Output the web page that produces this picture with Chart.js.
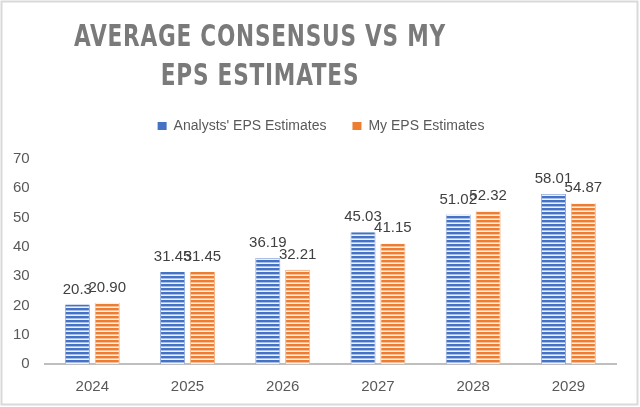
<!DOCTYPE html>
<html><head><meta charset="utf-8">
<script src="https://cdn.jsdelivr.net/npm/chart.js@4.4.0/dist/chart.umd.min.js"></script>
<style>html,body{margin:0;padding:0;background:#fff;overflow:hidden}#wrap{width:640px;height:407px;position:relative}</style>
</head><body><div id="wrap"><canvas id="c" width="640" height="407"></canvas></div>
<script>
const titleLines = ['AVERAGE CONSENSUS VS MY', 'EPS ESTIMATES'];
const categories = ['2024', '2025', '2026', '2027', '2028', '2029'];
const seriesNames = ["Analysts' EPS Estimates", 'My EPS Estimates'];
const analystsEPS = [20.3, 31.45, 36.19, 45.03, 51.02, 58.01];
const myEPS = [20.90, 31.45, 32.21, 41.15, 52.32, 54.87];
const analystsLabels = ['20.3', '31.45', '36.19', '45.03', '51.02', '58.01'];
const myLabels = ['20.90', '31.45', '32.21', '41.15', '52.32', '54.87'];
const yTicks = [0, 10, 20, 30, 40, 50, 60, 70];

const BLUE = '#4472c4', ORANGE = '#ed7d31';
const FONT = "'Liberation Sans', Arial, sans-serif";

function stripes(color, mid, light) {
  const t = document.createElement('canvas');
  t.width = 4; t.height = 4;
  const g = t.getContext('2d');
  g.fillStyle = color; g.fillRect(0, 0, 4, 4);
  g.fillStyle = mid; g.fillRect(0, 2, 4, 1);
  g.fillStyle = light; g.fillRect(0, 3, 4, 1);
  return g.createPattern(t, 'repeat');
}

const titlePlugin = {
  id: 'customTitle',
  afterDraw(chart) {
    const ctx = chart.ctx;
    ctx.save();
    ctx.strokeStyle = '#d9d9d9';
    ctx.lineWidth = 2;
    ctx.strokeRect(1.5, 1.5, 636, 403);
    ctx.fillStyle = '#7a7a7a';
    ctx.font = "bold 31px 'DejaVu Sans Condensed', 'DejaVu Sans', sans-serif";
    if ('letterSpacing' in ctx) ctx.letterSpacing = '1px';
    ctx.textAlign = 'center';
    ctx.textBaseline = 'middle';
    const s = 372 / ctx.measureText(titleLines[0]).width;
    ctx.translate(260, 0);
    ctx.scale(s, 1);
    ctx.fillText(titleLines[0], 0, 38);
    ctx.fillText(titleLines[1], 0, 77);
    ctx.restore();
  }
};

const legendMargin = {
  id: 'legendMargin',
  beforeInit(chart) {
    const lg = chart.legend;
    if (!lg) return;
    const fit = lg.fit;
    lg.fit = function () { fit.call(this); this.height += 16; };
  },
  afterLayout(chart) {
    const lg = chart.legend;
    if (!lg) return;
    lg.left += 14;
    lg.right += 14;
  }
};

const labelPlugin = {
  id: 'valueLabels',
  afterDatasetsDraw(chart) {
    const ctx = chart.ctx;
    const sets = [analystsLabels, myLabels];
    ctx.save();
    ctx.font = '15px ' + FONT;
    ctx.fillStyle = '#404040';
    ctx.textAlign = 'center';
    ctx.textBaseline = 'alphabetic';
    chart.data.datasets.forEach((ds, i) => {
      const meta = chart.getDatasetMeta(i);
      meta.data.forEach((el, j) => {
        ctx.fillText(sets[i][j], el.x, el.y - 11);
      });
    });
    ctx.restore();
  }
};

new Chart(document.getElementById('c'), {
  type: 'bar',
  data: {
    labels: categories,
    datasets: [
      { label: seriesNames[0], data: analystsEPS, backgroundColor: stripes(BLUE, '#a9bde6', '#eef2fa'), borderColor: '#8eaadb', borderWidth: {left:1,right:1,top:0,bottom:0}, solid: BLUE,
        categoryPercentage: 0.627, barPercentage: 0.84 },
      { label: seriesNames[1], data: myEPS, backgroundColor: stripes(ORANGE, '#f6be98', '#fdf0e8'), borderColor: '#f4b183', borderWidth: {left:1,right:1,top:0,bottom:0}, solid: ORANGE,
        categoryPercentage: 0.627, barPercentage: 0.84 }
    ]
  },
  options: {
    responsive: false,
    animation: false,
    devicePixelRatio: 1,
    layout: { padding: { top: 93, left: -2, right: 24, bottom: -3 } },
    plugins: {
      title: { display: false },
      tooltip: { enabled: false },
      legend: {
        position: 'top',
        labels: {
          boxWidth: 9, boxHeight: 8, padding: 26, color: '#595959',
          font: { family: FONT, size: 14 },
          generateLabels(chart) {
            return chart.data.datasets.map((ds, i) => ({
              text: ds.label, fillStyle: ds.solid, strokeStyle: ds.solid, lineWidth: 0,
              fontColor: '#595959', datasetIndex: i, hidden: false
            }));
          }
        }
      }
    },
    scales: {
      x: {
        grid: { display: false, drawTicks: false },
        border: { display: true, color: '#bfbfbf', width: 2 },
        ticks: { color: '#595959', font: { family: FONT, size: 15 }, padding: 14 }
      },
      y: {
        min: 0, max: 70,
        grid: { display: false, drawTicks: false },
        border: { display: false },
        afterBuildTicks(scale) { scale.ticks = yTicks.map(v => ({ value: v })); },
        ticks: { color: '#595959', font: { family: FONT, size: 15 }, padding: 15 }
      }
    }
  },
  plugins: [titlePlugin, legendMargin, labelPlugin]
});
</script></body></html>
